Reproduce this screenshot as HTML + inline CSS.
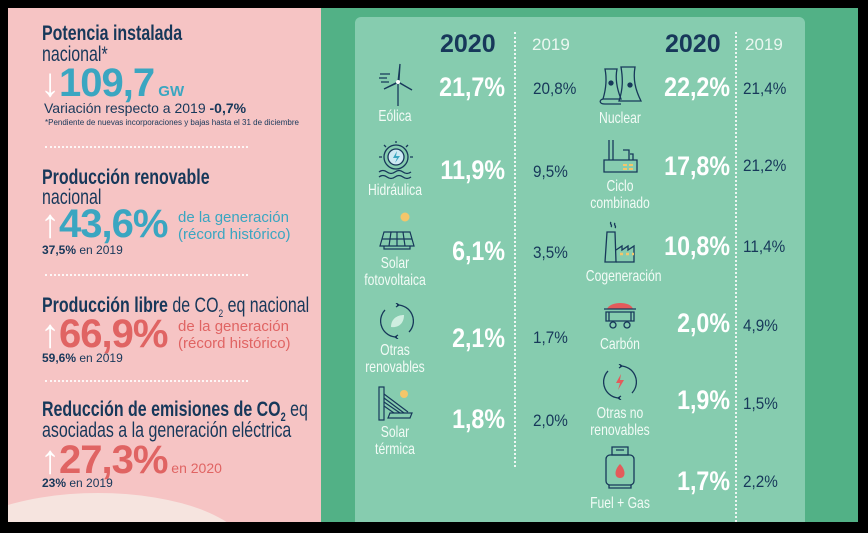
<!DOCTYPE html>
<html><head><meta charset="utf-8">
<style>
*{margin:0;padding:0;box-sizing:border-box}
html,body{width:868px;height:533px;overflow:hidden}
body{background:#000;position:relative;font-family:"Liberation Sans",sans-serif}
.a{position:absolute;white-space:nowrap;line-height:1}
.c{transform:scaleX(.76);transform-origin:0 0}
#pink{position:absolute;left:8px;top:8px;width:313px;height:514px;background:#f6c4c4;overflow:hidden}
#cream{position:absolute;left:-60px;top:485px;width:300px;height:120px;border-radius:50%;background:#f6e4df}
#green{position:absolute;left:321px;top:8px;width:537px;height:514px;background:#52b186}
#inner{position:absolute;left:355px;top:17px;width:450px;height:505px;background:#86ccaf;border-radius:6px 6px 0 0}
.h{font-weight:bold;font-size:21px;color:#17385a}
.r{font-size:21px;color:#17385a}
.dot{position:absolute;border-top:2px dotted #fff;height:0;opacity:.85}
.vd{position:absolute;border-left:2px dotted #fff;width:0;opacity:.85}
.big{font-weight:bold;font-size:40px;letter-spacing:-1px}
.pv{font-weight:bold;font-size:27px;color:#fff;text-align:right;width:90px;transform:scaleX(.86);transform-origin:100% 0}
.p19{font-size:17px;color:#17385a;transform:scaleX(.9);transform-origin:0 0}
.lb{font-size:16px;color:#f2fbf6;text-align:center;width:90px;line-height:17px;transform:scaleX(.76);transform-origin:50% 0}
.yr{font-weight:bold;font-size:25px;color:#17385a}
.y9{font-size:17px;color:#eaf7f0}
</style></head><body>
<div id="pink"><div id="cream"></div></div>
<div id="green"></div>
<div id="inner"></div>

<!-- LEFT PANEL -->
<div class="a h c" style="left:42px;top:23px">Potencia instalada</div>
<div class="a r c" style="left:42px;top:44px">nacional*</div>
<div class="a big" style="left:40px;top:63px;color:#3aa6c1"><span style="color:#fff">↓</span>109,7<span style="font-size:15px;letter-spacing:0"> GW</span></div>
<div class="a" style="left:44px;top:101px;font-size:14px;color:#17385a">Variación respecto a 2019 <b>-0,7%</b></div>
<div class="a" style="left:45px;top:119px;font-size:8px;color:#17385a">*Pendiente de nuevas incorporaciones y bajas hasta el 31 de diciembre</div>
<div class="dot" style="left:45px;top:146px;width:203px"></div>

<div class="a h c" style="left:42px;top:167px">Producción renovable</div>
<div class="a r c" style="left:42px;top:187px">nacional</div>
<div class="a big" style="left:40px;top:204px;color:#3aa6c1"><span style="color:#fff">↑</span>43,6%</div>
<div class="a" style="left:178px;top:209px;font-size:15px;color:#3aa6c1;line-height:17px">de la generación<br>(récord histórico)</div>
<div class="a" style="left:42px;top:244px;font-size:12px;color:#17385a"><b>37,5%</b> en 2019</div>
<div class="dot" style="left:45px;top:274px;width:203px"></div>

<div class="a r c" style="left:42px;top:295px"><b>Producción libre</b> de CO<sub style="font-size:11px">2</sub> eq nacional</div>
<div class="a big" style="left:40px;top:314px;color:#e06463"><span style="color:#fff">↑</span>66,9%</div>
<div class="a" style="left:178px;top:318px;font-size:15px;color:#e06463;line-height:17px">de la generación<br>(récord histórico)</div>
<div class="a" style="left:42px;top:352px;font-size:12px;color:#17385a"><b>59,6%</b> en 2019</div>
<div class="dot" style="left:45px;top:380px;width:203px"></div>

<div class="a r c" style="left:42px;top:399px"><b>Reducción de emisiones de CO<sub style="font-size:12px">2</sub></b> eq</div>
<div class="a r c" style="left:42px;top:420px">asociadas a la generación eléctrica</div>
<div class="a big" style="left:40px;top:440px;color:#e06463"><span style="color:#fff">↑</span>27,3%<span style="font-size:14px;font-weight:normal;letter-spacing:0"> en 2020</span></div>
<div class="a" style="left:42px;top:477px;font-size:12px;color:#17385a"><b>23%</b> en 2019</div>

<!-- GREEN HEADERS -->
<div class="a yr" style="left:440px;top:32px">2020</div>
<div class="a y9" style="left:532px;top:36px">2019</div>
<div class="a yr" style="left:665px;top:32px">2020</div>
<div class="a y9" style="left:745px;top:36px">2019</div>
<div class="vd" style="left:514px;top:32px;height:435px"></div>
<div class="vd" style="left:735px;top:32px;height:490px"></div>

<!-- LEFT COLUMN -->
<svg class="a" style="left:378px;top:62px" width="36" height="44" viewBox="0 0 36 44" fill="none" stroke="#17385a" stroke-width="1.3">
<line x1="20" y1="20" x2="20" y2="44"/><path d="M20 20 L22 2 L21 18Z M20 20 L34 28 L22 21Z M20 20 L6 27 L19 21Z"/><circle cx="20" cy="20" r="2" fill="#fff" stroke="none"/>
<path d="M2 12h10M1 16h8M3 20h8"/></svg>
<div class="a lb" style="left:350px;top:108px">Eólica</div>
<div class="a pv" style="left:415px;top:74px">21,7%</div>
<div class="a p19" style="left:533px;top:80px">20,8%</div>

<svg class="a" style="left:377px;top:140px" width="38" height="40" viewBox="0 0 38 40" fill="none" stroke="#17385a" stroke-width="1.3">
<circle cx="19" cy="17" r="12"/><circle cx="19" cy="17" r="8" fill="#cde9f3"/><path d="M20 11l-4 7h4l-2 5 5-7h-4z" fill="#3aa6c1" stroke="none"/>
<path d="M19 3v-2M9 7l-2-2M29 7l2-2M5 17h-3M33 17h3"/><path d="M2 32q4-3 8 0t8 0 8 0 8 0M2 37q4-3 8 0t8 0 8 0 8 0"/></svg>
<div class="a lb" style="left:350px;top:182px">Hidráulica</div>
<div class="a pv" style="left:415px;top:157px">11,9%</div>
<div class="a p19" style="left:533px;top:163px">9,5%</div>

<svg class="a" style="left:378px;top:210px" width="38" height="42" viewBox="0 0 38 42" fill="none" stroke="#17385a" stroke-width="1.2">
<circle cx="27" cy="7" r="4.5" fill="#f4c66a" stroke="none"/><path d="M6 22h26l4 14H2z"/><path d="M13 22l-2 14M19 22v14M25 22l2 14M4 29h30"/><path d="M6 36v3h26v-3"/></svg>
<div class="a lb" style="left:350px;top:255px">Solar<br>fotovoltaica</div>
<div class="a pv" style="left:415px;top:238px">6,1%</div>
<div class="a p19" style="left:533px;top:244px">3,5%</div>

<svg class="a" style="left:380px;top:303px" width="34" height="36" viewBox="0 0 34 36" fill="none" stroke="#17385a" stroke-width="1.3">
<path d="M17 2a16 16 0 0 1 12 27M17 34A16 16 0 0 1 5 7"/><path d="M16 0l3 2-3 2M18 32l-3 2 3 2"/><path d="M11 24c0-8 6-12 13-12 0 8-5 13-13 12z" fill="#cfeee0" stroke="none"/></svg>
<div class="a lb" style="left:350px;top:342px">Otras<br>renovables</div>
<div class="a pv" style="left:415px;top:325px">2,1%</div>
<div class="a p19" style="left:533px;top:329px">1,7%</div>

<svg class="a" style="left:378px;top:386px" width="36" height="36" viewBox="0 0 36 36" fill="none" stroke="#17385a" stroke-width="1.2">
<rect x="1" y="1" width="5" height="33"/><path d="M6 8l24 18M6 12l20 15M6 16l16 11M6 20l10 7"/><circle cx="26" cy="8" r="4" fill="#f4c66a" stroke="none"/><path d="M12 27h22l-2 5H10z"/></svg>
<div class="a lb" style="left:350px;top:424px">Solar<br>térmica</div>
<div class="a pv" style="left:415px;top:406px">1,8%</div>
<div class="a p19" style="left:533px;top:412px">2,0%</div>

<!-- RIGHT COLUMN -->
<svg class="a" style="left:597px;top:63px" width="48" height="44" viewBox="0 0 48 44" fill="none" stroke="#17385a" stroke-width="1.3">
<path d="M8 6h12c-2 10 0 20 4 30H6c3-10 4-20 2-30z"/><path d="M24 4h14c-2 12 0 22 6 34H22c4-12 4-22 2-34z"/><path d="M6 36c-4 1-4 5 2 5h16"/><circle cx="14" cy="20" r="2" fill="#17385a"/><circle cx="33" cy="22" r="2" fill="#17385a"/></svg>
<div class="a lb" style="left:575px;top:110px">Nuclear</div>
<div class="a pv" style="left:640px;top:74px">22,2%</div>
<div class="a p19" style="left:743px;top:80px">21,4%</div>

<svg class="a" style="left:603px;top:138px" width="36" height="36" viewBox="0 0 36 36" fill="none" stroke="#17385a" stroke-width="1.3">
<path d="M6 2v20M10 2v20M20 12h6v10M27 16h3v6"/><path d="M1 22h33v12H1z"/><path d="M20 27h4M26 27h4M20 31h4M26 31h4" stroke="#f4c66a" stroke-width="2"/></svg>
<div class="a lb" style="left:575px;top:178px">Ciclo<br>combinado</div>
<div class="a pv" style="left:640px;top:153px">17,8%</div>
<div class="a p19" style="left:743px;top:157px">21,2%</div>

<svg class="a" style="left:601px;top:220px" width="38" height="44" viewBox="0 0 38 44" fill="none" stroke="#17385a" stroke-width="1.3">
<path d="M10 2c-2 2 2 3 0 5M14 3c-2 2 2 3 0 5"/><path d="M6 12h8l1 30H4z"/><path d="M15 30l6-4v4l6-4v4l6-4v16H15"/><path d="M19 34h3M25 34h3M31 34h2" stroke="#f4c66a" stroke-width="2.5"/></svg>
<div class="a lb" style="left:575px;top:268px">Cogeneración</div>
<div class="a pv" style="left:640px;top:233px">10,8%</div>
<div class="a p19" style="left:743px;top:238px">11,4%</div>

<svg class="a" style="left:603px;top:300px" width="34" height="30" viewBox="0 0 34 30" fill="none" stroke="#17385a" stroke-width="1.3">
<path d="M4 9c3-8 24-8 26 0z" fill="#e35b5b" stroke="none"/><path d="M1 9h32M3 12h28v9H3zM6 12v9M28 12v9"/><circle cx="10" cy="25" r="3"/><circle cx="24" cy="25" r="3"/></svg>
<div class="a lb" style="left:575px;top:336px">Carbón</div>
<div class="a pv" style="left:640px;top:310px">2,0%</div>
<div class="a p19" style="left:743px;top:317px">4,9%</div>

<svg class="a" style="left:603px;top:364px" width="34" height="36" viewBox="0 0 34 36" fill="none" stroke="#17385a" stroke-width="1.3">
<path d="M17 2a16 16 0 0 1 12 27M17 34A16 16 0 0 1 5 7"/><path d="M16 0l3 2-3 2M18 32l-3 2 3 2"/><path d="M18 10l-5 9h4l-2 7 6-10h-4z" fill="#e35b5b" stroke="none"/></svg>
<div class="a lb" style="left:575px;top:405px">Otras no<br>renovables</div>
<div class="a pv" style="left:640px;top:387px">1,9%</div>
<div class="a p19" style="left:743px;top:395px">1,5%</div>

<svg class="a" style="left:604px;top:446px" width="32" height="44" viewBox="0 0 32 44" fill="none" stroke="#17385a" stroke-width="1.3">
<path d="M8 1h16v8H8zM12 4h8"/><rect x="2" y="9" width="28" height="30" rx="4"/><path d="M16 18c-6 6-6 14 0 14s6-8 0-14z" fill="#e35b5b" stroke="none"/><path d="M5 39v3h22v-3"/></svg>
<div class="a lb" style="left:575px;top:495px">Fuel + Gas</div>
<div class="a pv" style="left:640px;top:468px">1,7%</div>
<div class="a p19" style="left:743px;top:473px">2,2%</div>
</body></html>
